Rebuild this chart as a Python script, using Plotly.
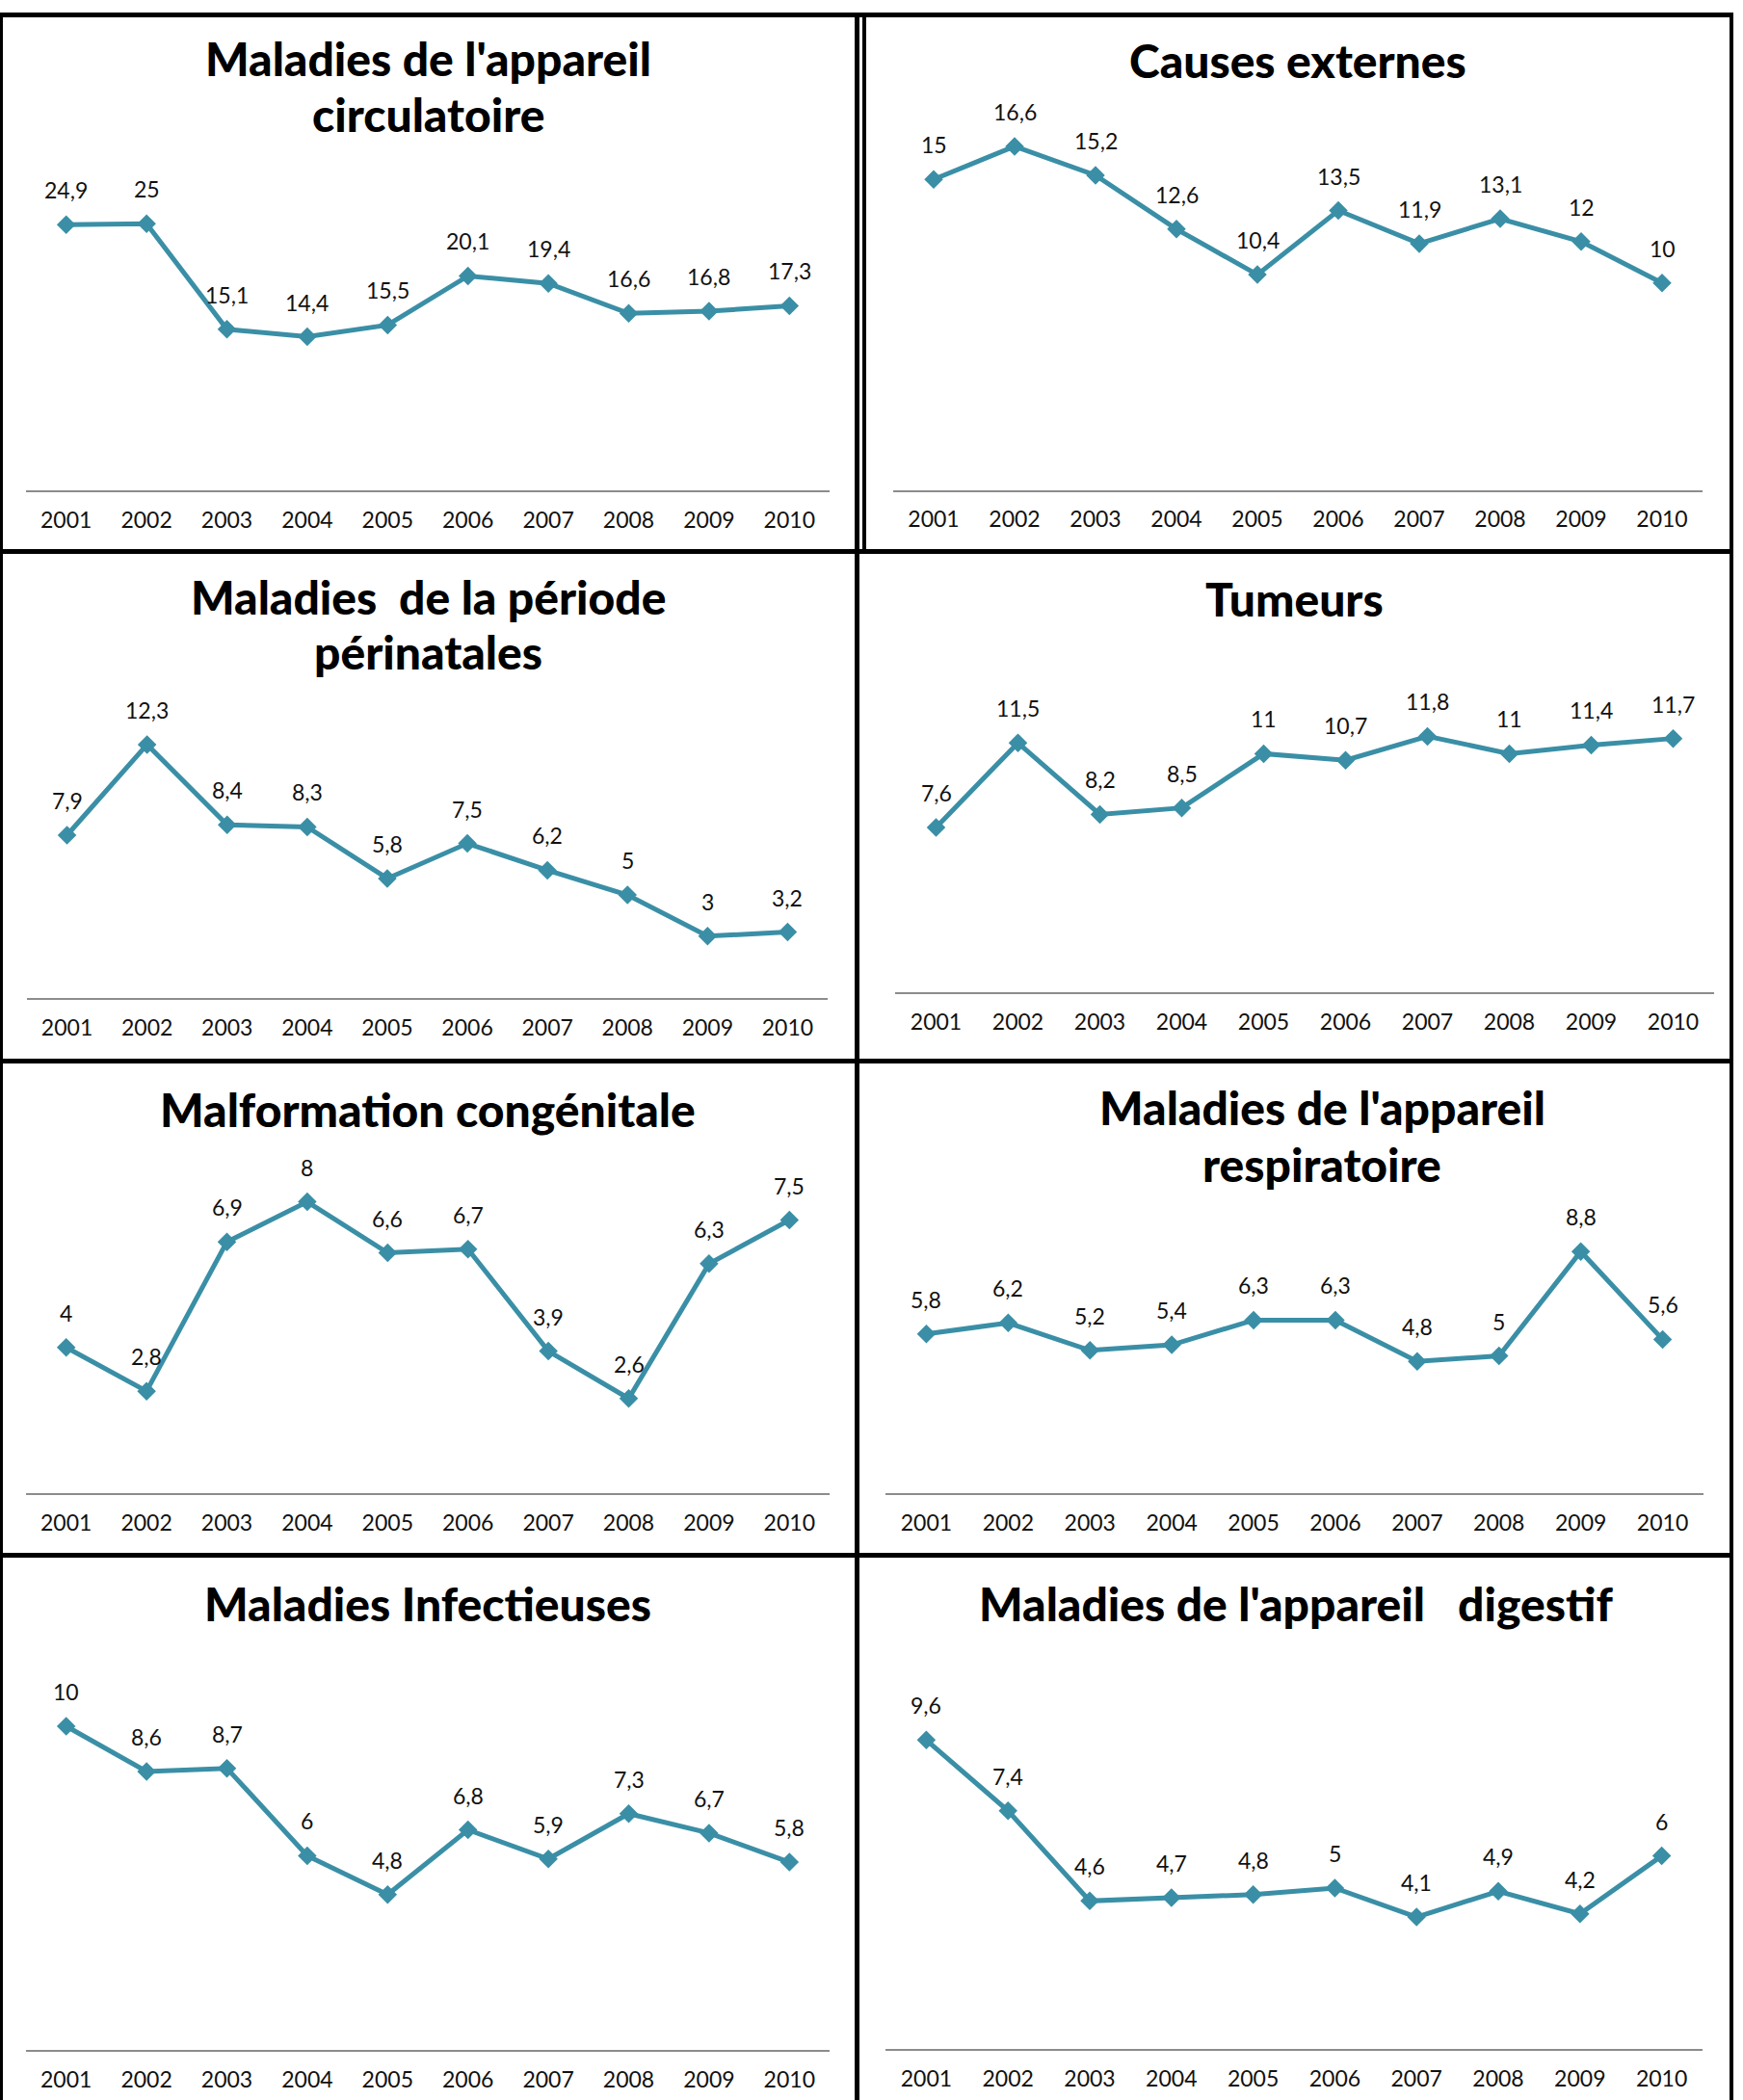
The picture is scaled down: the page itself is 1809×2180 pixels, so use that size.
import plotly.graph_objects as go

# Taux par année (en %), 2001-2010
years = ["2001", "2002", "2003", "2004", "2005", "2006", "2007", "2008", "2009", "2010"]

circulatoire = [24.9, 25, 15.1, 14.4, 15.5, 20.1, 19.4, 16.6, 16.8, 17.3]
causes_externes = [15, 16.6, 15.2, 12.6, 10.4, 13.5, 11.9, 13.1, 12, 10]
perinatales = [7.9, 12.3, 8.4, 8.3, 5.8, 7.5, 6.2, 5, 3, 3.2]
tumeurs = [7.6, 11.5, 8.2, 8.5, 11, 10.7, 11.8, 11, 11.4, 11.7]
malformation = [4, 2.8, 6.9, 8, 6.6, 6.7, 3.9, 2.6, 6.3, 7.5]
respiratoire = [5.8, 6.2, 5.2, 5.4, 6.3, 6.3, 4.8, 5, 8.8, 5.6]
infectieuses = [10, 8.6, 8.7, 6, 4.8, 6.8, 5.9, 7.3, 6.7, 5.8]
digestif = [9.6, 7.4, 4.6, 4.7, 4.8, 5, 4.1, 4.9, 4.2, 6]

titles = [
    ["Maladies de l'appareil", "circulatoire"],
    ["Causes externes"],
    ["Maladies\u00a0 de la période", "périnatales"],
    ["Tumeurs"],
    ["Malformation congénitale"],
    ["Maladies de l'appareil", "respiratoire"],
    ["Maladies Infectieuses"],
    ["Maladies de l'appareil\u00a0\u00a0 digestif"],
]
series = [circulatoire, causes_externes, perinatales, tumeurs,
          malformation, respiratoire, infectieuses, digestif]

W, H = 1809, 2180
LINE_COLOR = "#3A8FA6"
FONT = "Lato, 'Open Sans', sans-serif"


def px(x):
    return x / W


def py(y):
    return 1 - y / H


# Pixel layout of each small chart: axis span, baseline, px per unit, y max,
# title centre x and the centre y of each title line.
layout_specs = [
    dict(x0=27, x1=861, base=509, unit=11.07, ymax=30, tx=444, ty=[60, 118]),
    dict(x0=927, x1=1767, base=508.5, unit=21.48, ymax=18, tx=1347, ty=[62]),
    dict(x0=28, x1=859, base=1036, unit=21.39, ymax=14, tx=444, ty=[619, 677]),
    dict(x0=929, x1=1779, base=1030, unit=22.51, ymax=14, tx=1343, ty=[621]),
    dict(x0=27, x1=861, base=1550, unit=37.8, ymax=9, tx=444, ty=[1151]),
    dict(x0=919, x1=1768, base=1550, unit=28.5, ymax=10, tx=1372, ty=[1150, 1208]),
    dict(x0=27, x1=861, base=2128, unit=33.6, ymax=12, tx=444, ty=[1664]),
    dict(x0=919, x1=1767, base=2127, unit=33.4, ymax=12, tx=1345, ty=[1664]),
]

fig = go.Figure()
annotations = []
layout_axes = {}

for i, (vals, spec, title) in enumerate(zip(series, layout_specs, titles)):
    n = i + 1
    xa = "x" if n == 1 else f"x{n}"
    ya = "y" if n == 1 else f"y{n}"
    xkey = "xaxis" if n == 1 else f"xaxis{n}"
    ykey = "yaxis" if n == 1 else f"yaxis{n}"

    fig.add_trace(go.Scatter(
        x=years, y=vals, xaxis=xa, yaxis=ya,
        mode="lines+markers",
        line=dict(color=LINE_COLOR, width=5),
        marker=dict(symbol="diamond", size=15, color=LINE_COLOR),
        showlegend=False, hoverinfo="skip", cliponaxis=False,
    ))

    layout_axes[xkey] = dict(
        domain=[px(spec["x0"]), px(spec["x1"])],
        anchor=ya, type="category", range=[-0.5, 9.5],
        categoryorder="array", categoryarray=years,
        showline=True, linecolor="#8C8C8C", linewidth=2,
        showgrid=False, zeroline=False, ticks="",
        ticklabelstandoff=9,
        tickfont=dict(family=FONT, size=23, color="#111111"),
    )
    top = spec["base"] - spec["ymax"] * spec["unit"]
    layout_axes[ykey] = dict(
        domain=[py(spec["base"]), py(top)],
        anchor=xa, range=[0, spec["ymax"]], visible=False,
    )

    # value labels above each point (x given as category index)
    for j, v in enumerate(vals):
        annotations.append(dict(
            x=j, y=v, xref=xa, yref=ya,
            text=f"{v:g}".replace(".", ","), showarrow=False,
            yshift=36, font=dict(family=FONT, size=23, color="#111111"),
        ))

    for line_text, ty in zip(title, spec["ty"]):
        annotations.append(dict(
            x=px(spec["tx"]), y=py(ty), xref="paper", yref="paper",
            xanchor="center", yanchor="middle", text=line_text,
            showarrow=False,
            font=dict(family=FONT, size=48, weight=900, color="#000000"),
        ))

# Panel frames
shapes = []


def bar(x0, y0, x1, y1):
    shapes.append(dict(type="rect", xref="paper", yref="paper",
                       x0=px(x0), x1=px(x1), y0=py(y1), y1=py(y0),
                       fillcolor="#000000", line=dict(width=0), layer="above"))


bar(0, 13, 1799, 18)          # top edge
bar(0, 13, 3, 2180)           # left edge
bar(887, 13, 892, 2180)       # centre divider
bar(895, 13, 899, 574)        # top-right frame, left side
bar(1795, 13, 1799, 2180)     # right edge
bar(0, 570, 1799, 575)        # row separators
bar(0, 1099, 1799, 1104)
bar(0, 1612, 1799, 1617)

fig.update_layout(
    width=W, height=H, autosize=False,
    margin=dict(l=0, r=0, t=0, b=0),
    paper_bgcolor="white", plot_bgcolor="rgba(0,0,0,0)",
    annotations=annotations, shapes=shapes,
    **layout_axes,
)

fig.write_html("out.html")
